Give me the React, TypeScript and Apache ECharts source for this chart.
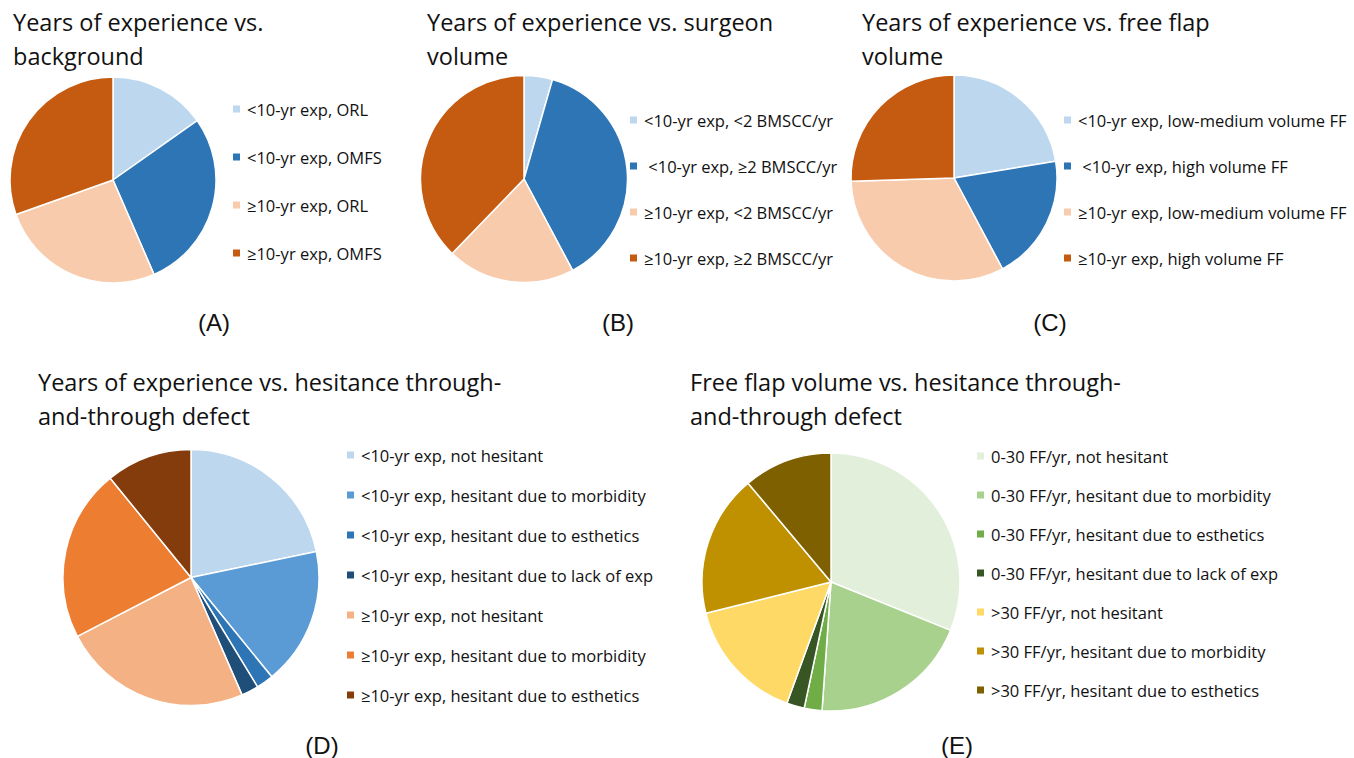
import React, { useEffect, useRef } from "react";
import * as echarts from "echarts";

// ---- Data ----
const namesA = ["<10-yr exp, ORL", "<10-yr exp, OMFS", "≥10-yr exp, ORL", "≥10-yr exp, OMFS"];
const valuesA = [7, 13, 12, 14];

const namesB = ["<10-yr exp, <2 BMSCC/yr", " <10-yr exp, ≥2 BMSCC/yr", "≥10-yr exp, <2 BMSCC/yr", "≥10-yr exp, ≥2 BMSCC/yr"];
const valuesB = [2, 17, 9, 17];

const namesC = ["<10-yr exp, low-medium volume FF", " <10-yr exp, high volume FF", "≥10-yr exp, low-medium volume FF", "≥10-yr exp, high volume FF"];
const valuesC = [22.4, 19.8, 32.3, 25.5];

const namesD = [
  "<10-yr exp, not hesitant",
  "<10-yr exp, hesitant due to morbidity",
  "<10-yr exp, hesitant due to esthetics",
  "<10-yr exp, hesitant due to lack of exp",
  "≥10-yr exp, not hesitant",
  "≥10-yr exp, hesitant due to morbidity",
  "≥10-yr exp, hesitant due to esthetics",
];
const valuesD = [10, 8, 1, 1, 11, 10, 5];

const namesE = [
  "0-30 FF/yr, not hesitant",
  "0-30 FF/yr, hesitant due to morbidity",
  "0-30 FF/yr, hesitant due to esthetics",
  "0-30 FF/yr, hesitant due to lack of exp",
  ">30 FF/yr, not hesitant",
  ">30 FF/yr, hesitant due to morbidity",
  ">30 FF/yr, hesitant due to esthetics",
];
const valuesE = [14, 9, 1, 1, 7, 8, 5];

const titles = [
  "Years of experience vs.\nbackground",
  "Years of experience vs. surgeon\nvolume",
  "Years of experience vs. free flap\nvolume",
  "Years of experience vs. hesitance through-\nand-through defect",
  "Free flap volume vs. hesitance through-\nand-through defect",
];
const panelLabels = ["(A)", "(B)", "(C)", "(D)", "(E)"];

// ---- Styles ----
const colors4 = ["#BDD7EE", "#2E75B6", "#F8CBAD", "#C55A11"];
const colorsD = ["#BDD7EE", "#5B9BD5", "#2E75B6", "#1F4E79", "#F4B183", "#ED7D31", "#843C0C"];
const colorsE = ["#E2EFDA", "#A9D18E", "#70AD47", "#375623", "#FFD966", "#BF9000", "#7F6000"];

const FONT = "'Open Sans', 'Noto Sans', sans-serif";

const panels = [
  { names: namesA, values: valuesA, colors: colors4, center: [113, 180], r: 103, legend: [231, 99], gap: 28, title: [13, 5], label: [214, 322] },
  { names: namesB, values: valuesB, colors: colors4, center: [524, 179], r: 103.5, legend: [628, 110], gap: 26, title: [427, 5], label: [618, 322] },
  { names: namesC, values: valuesC, colors: colors4, center: [954, 178], r: 103, legend: [1062, 110], gap: 26, title: [862, 5], label: [1050, 322] },
  { names: namesD, values: valuesD, colors: colorsD, center: [191, 577.5], r: 128, legend: [345, 445], gap: 20, title: [38, 365], label: [322, 745] },
  { names: namesE, values: valuesE, colors: colorsE, center: [831, 582], r: 129, legend: [975, 446], gap: 19, title: [690, 365], label: [957, 745] },
];

export default function App() {
  const ref = useRef<HTMLDivElement>(null);
  useEffect(() => {
    if (!ref.current) return;
    const chart = echarts.init(ref.current, null, { renderer: "svg" });
    const option: any = {
      animation: false,
      backgroundColor: "#ffffff",
      title: panels.map((p, i) => ({
        text: titles[i],
        left: p.title[0],
        top: p.title[1],
        padding: 0,
        textStyle: { fontFamily: FONT, fontSize: 23.5, fontWeight: "normal", color: "#111111", lineHeight: 34 },
      })),
      legend: panels.map((p) => ({
        orient: "vertical",
        left: p.legend[0],
        top: p.legend[1],
        padding: 0,
        itemWidth: 9,
        itemHeight: 9,
        itemGap: p.gap,
        icon: "rect",
        data: p.names,
        selectedMode: false,
        textStyle: { fontFamily: FONT, fontSize: 16.5, color: "#111111", lineHeight: 20, padding: [0, 0, 0, 1] },
      })),
      graphic: panels.map((p, i) => ({
        type: "text",
        x: p.label[0],
        y: p.label[1],
        style: {
          text: panelLabels[i],
          font: "24px 'Liberation Sans', Arial, sans-serif",
          fill: "#111",
          textAlign: "center",
          textVerticalAlign: "middle",
        },
      })),
      series: panels.map((p) => ({
        type: "pie",
        center: p.center,
        radius: [0, p.r],
        startAngle: 90,
        clockwise: true,
        label: { show: false },
        labelLine: { show: false },
        emphasis: { disabled: true },
        itemStyle: { borderColor: "#ffffff", borderWidth: 1.5 },
        data: p.names.map((n, k) => ({ name: n, value: p.values[k], itemStyle: { color: p.colors[k] } })),
      })),
    };
    chart.setOption(option);
    return () => chart.dispose();
  }, []);
  return <div ref={ref} style={{ position: "fixed", left: 0, top: 0, width: 1354, height: 758 }} />;
}
